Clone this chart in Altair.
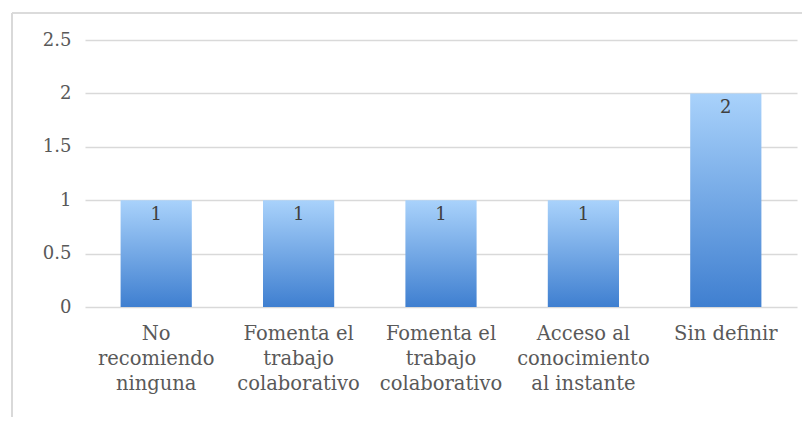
import altair as alt
import pandas as pd

categories = ["No\nrecomiendo\nninguna", "Fomenta el\ntrabajo\ncolaborativo",
              "Fomenta el\ntrabajo\ncolaborativo", "Acceso al\nconocimiento\nal instante",
              "Sin definir"]
values = [1, 1, 1, 1, 2]

df = pd.DataFrame({"idx": list(range(len(values))), "value": values})

arr = "[" + ",".join("'" + c.replace("\n", "|") + "'" for c in categories) + "]"
label_expr = f"split({arr}[datum.value], '|')"

FONT = "DejaVu Serif"

x = alt.X("idx:O", title=None,
          scale=alt.Scale(paddingInner=0.5, paddingOuter=0.25),
          axis=alt.Axis(labelExpr=label_expr, labelAngle=0, ticks=False, domain=False,
                        labelFont=FONT, labelFontSize=19.5, labelColor="#595959",
                        labelPadding=17, labelLineHeight=25, labelLimit=0))
y = alt.Y("value:Q", title=None,
          scale=alt.Scale(domain=[0, 2.5]),
          axis=alt.Axis(values=[0, 0.5, 1, 1.5, 2, 2.5], ticks=False, domain=False,
                        labelFont=FONT, labelFontSize=18, labelColor="#595959",
                        labelPadding=14, gridColor="#d9d9d9", gridWidth=1.5,
                        labelExpr="datum.value"))

bars = alt.Chart(df).mark_bar(
    color=alt.Gradient(gradient="linear", x1=0, y1=0, x2=0, y2=1,
                       stops=[alt.GradientStop(color="#a9d2fb", offset=0),
                              alt.GradientStop(color="#3f7fd0", offset=1)])
).encode(x=x, y=y)

text = alt.Chart(df).mark_text(baseline="top", dy=6, font=FONT, fontSize=18,
                               color="#404040").encode(x=x, y=y, text="value:Q")

border_left = alt.Chart(df).mark_rule(color="#d9d9d9", strokeWidth=1.2).encode(
    x=alt.value(-73), y=alt.value(-27), y2=alt.value(400))
border_top = alt.Chart(df).mark_rule(color="#d9d9d9", strokeWidth=1.2).encode(
    x=alt.value(-73), x2=alt.value(800), y=alt.value(-27))

chart = alt.layer(bars, text, border_left, border_top).properties(
    width=712, height=267,
    autosize=alt.AutoSizeParams(type="none"),
    padding={"left": 77, "top": 32, "right": 5, "bottom": 110},
).configure_view(stroke=None).configure_axis(labelFont=FONT)

chart.save("out.html", embed_options={"renderer": "svg", "actions": False})
